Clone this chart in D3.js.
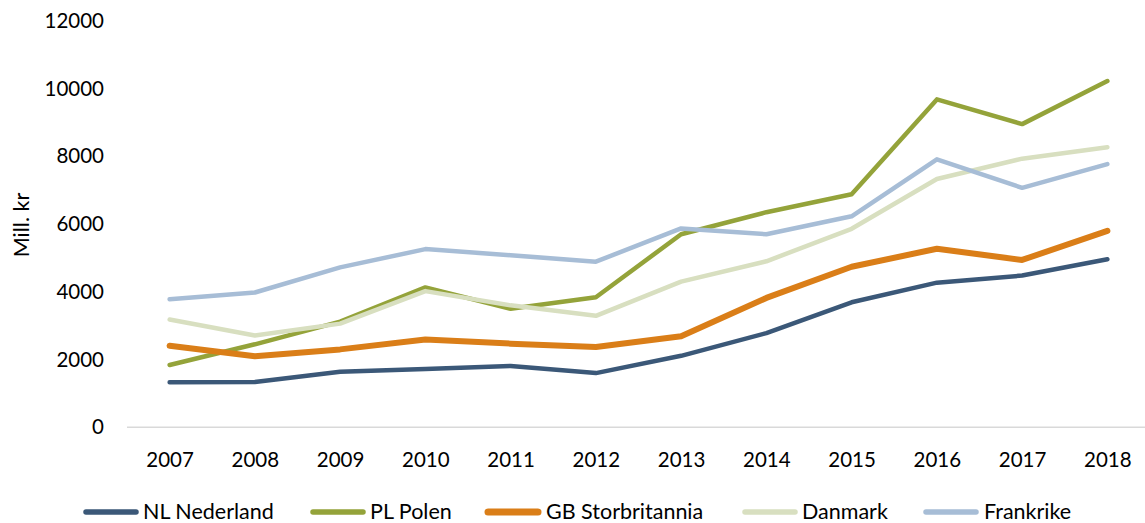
<!DOCTYPE html>
<html><head><meta charset="utf-8">
<script src="https://cdn.jsdelivr.net/npm/d3@7"></script>
<style>
body{margin:0;background:#fff;}
svg text{font-family:Lato,"Open Sans",sans-serif;fill:#000;}
</style></head>
<body><svg id="c" width="1145" height="523"></svg>
<script>
const years = ["2007","2008","2009","2010","2011","2012","2013","2014","2015","2016","2017","2018"];
const yTicks = [0,2000,4000,6000,8000,10000,12000];
const nederland = [1330,1340,1640,1720,1810,1600,2110,2780,3690,4270,4480,4960];
const polen = [1840,2450,3120,4130,3500,3840,5700,6350,6880,9680,8950,10220];
const storbritannia = [2410,2100,2300,2590,2470,2370,2690,3820,4740,5270,4940,5800];
const danmark = [3180,2710,3060,4020,3600,3290,4300,4900,5860,7330,7930,8270];
const frankrike = [3780,3980,4720,5260,5080,4890,5870,5700,6230,7910,7070,7770];
const seriesNames = ["NL Nederland","PL Polen","GB Storbritannia","Danmark","Frankrike"];

const series = [
  {name:seriesNames[0], values:nederland, color:"#3b5878", w:4.5},
  {name:seriesNames[1], values:polen, color:"#94a33a", w:4.5},
  {name:seriesNames[2], values:storbritannia, color:"#da7e18", w:6},
  {name:seriesNames[3], values:danmark, color:"#d8dfc0", w:4.5},
  {name:seriesNames[4], values:frankrike, color:"#a7bdd6", w:4.5}
];

const svg = d3.select("#c");
const x = d3.scalePoint().domain(years).range([127,1150]).padding(0.5);
const y = d3.scaleLinear().domain([0,12000]).range([427.3,20.8]);

// x axis
const gx = svg.append("g").attr("transform","translate(0,427.3)")
  .call(d3.axisBottom(x).tickSize(0).tickPadding(25.5));
gx.select(".domain").remove();
gx.selectAll("text").style("font-size","20.5px").style("font-family","Lato");
svg.append("line").attr("x1",127).attr("x2",1145).attr("y1",y(0)).attr("y2",y(0))
  .attr("stroke","#d9d9d9").attr("stroke-width",1.5);

// y axis
const gy = svg.append("g").attr("transform","translate(127,0)")
  .call(d3.axisLeft(y).tickValues(yTicks).tickSize(0).tickPadding(23).tickFormat(d3.format("d")));
gy.select(".domain").remove();
gy.selectAll("text").style("font-size","20.5px").style("font-family","Lato");

svg.append("text").attr("transform","translate(29,225) rotate(-90)")
  .attr("text-anchor","middle").style("font-size","21.5px").text("Mill. kr");

const line = d3.line().x((d,i)=>x(years[i])).y(d=>y(d));
series.forEach(s=>{
  svg.append("path").datum(s.values).attr("d",line)
    .attr("fill","none").attr("stroke",s.color).attr("stroke-width",s.w)
    .attr("stroke-linecap","round").attr("stroke-linejoin","round");
});

// legend
const legX = [83,310,485,742,923];
const txtX = [143,370,546,802,984];
const lg = svg.append("g");
series.forEach((s,i)=>{
  lg.append("line").attr("x1",legX[i]+3).attr("x2",legX[i]+53).attr("y1",512).attr("y2",512)
    .attr("stroke",s.color).attr("stroke-width",s.w+1).attr("stroke-linecap","round");
  lg.append("text").attr("x",txtX[i]).attr("y",519).style("font-size","21.5px").text(s.name);
});
</script></body></html>
